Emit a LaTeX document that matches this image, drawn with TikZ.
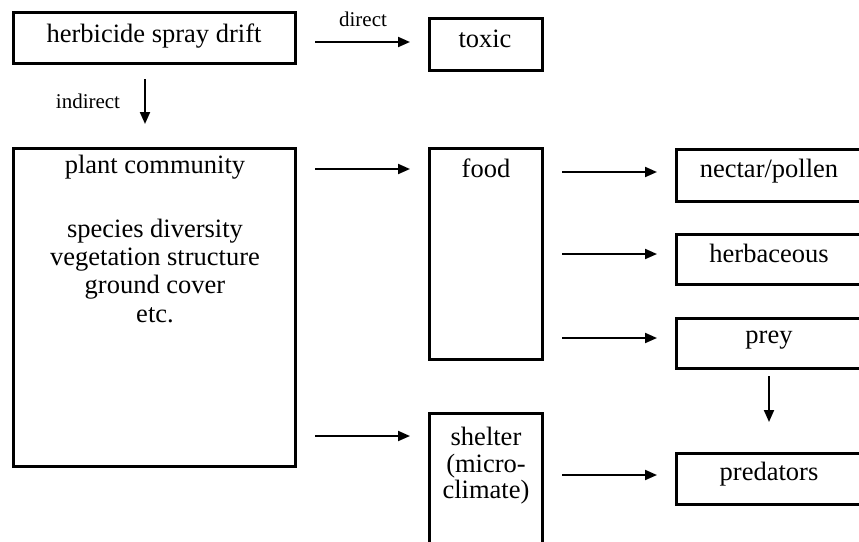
\documentclass[tikz,border=0pt]{standalone}
\usepackage{fontspec}
\setmainfont{Liberation Serif}
\usetikzlibrary{arrows.meta}
\begin{document}
\begin{tikzpicture}[x=1pt,y=-1pt,
  box/.style={draw, line width=3pt, inner sep=0pt, outer sep=0pt, anchor=north west},
  txt/.style={anchor=base, inner sep=0pt, font=\fontsize{26.5}{28.5}\selectfont},
  lbl/.style={anchor=base, inner sep=0pt, font=\fontsize{21}{24}\selectfont},
  arr/.style={line width=2pt, -{Triangle[length=12pt,width=10pt]}}]
\useasboundingbox (0,0) rectangle (859,541);
\clip (0,0) rectangle (859,541);
\fill[white] (0,0) rectangle (859,541);
% boxes
\node[box, minimum width=282pt, minimum height=51pt] (herb) at (13.5,12.5) {};
\node[box, minimum width=113pt, minimum height=52pt] (toxic) at (429.5,18.5) {};
\node[box, minimum width=282pt, minimum height=318pt] (plant) at (13.5,148.5) {};
\node[box, minimum width=113pt, minimum height=211pt] (food) at (429.5,148.5) {};
\node[box, minimum width=113pt, minimum height=150pt] (shelter) at (429.5,413.5) {};
\node[box, minimum width=188pt, minimum height=52pt] (nectar) at (676.5,149.5) {};
\node[box, minimum width=188pt, minimum height=50pt] (herbac) at (676.5,234.5) {};
\node[box, minimum width=188pt, minimum height=50pt] (prey) at (676.5,318.5) {};
\node[box, minimum width=188pt, minimum height=51pt] (pred) at (676.5,453.5) {};
% texts
\node[txt] (herbT) at (154,42) {herbicide spray drift};
\node[txt] (toxicT) at (485,47) {toxic};
\node[lbl] (directL) at (363,26) {direct};
\node[lbl] (indirectL) at (88,108) {indirect};
\node[txt] (pc1) at (155,173) {plant community};
\node[txt] (pc2) at (155,237) {species diversity};
\node[txt] (pc3) at (155,265) {vegetation structure};
\node[txt] (pc4) at (155,293) {ground cover};
\node[txt] (pc5) at (155,322) {etc.};
\node[txt] (foodT) at (486,177) {food};
\node[txt] (sh1) at (486,445) {shelter};
\node[txt] (sh2) at (486,472) {(micro-};
\node[txt] (sh3) at (486,498) {climate)};
\node[txt] (nectarT) at (769,177) {nectar/pollen};
\node[txt] (herbacT) at (769,262) {herbaceous};
\node[txt] (preyT) at (769,343) {prey};
\node[txt] (predT) at (769,480) {predators};
% arrow start points
\coordinate (d0) at ([xshift=19.5pt,yshift=-4pt]herb.east);
\coordinate (i0) at ([xshift=-9.5pt,yshift=-15.5pt]herb.south);
\coordinate (p1) at ([xshift=19.5pt,yshift=-20.5pt]plant.north east);
\coordinate (p2) at ([xshift=19.5pt,yshift=30.5pt]plant.south east);
\coordinate (f1) at ([xshift=19.5pt,yshift=-23.5pt]food.north east);
\coordinate (f2) at ([xshift=19.5pt,yshift=-105.5pt]food.north east);
\coordinate (f3) at ([xshift=19.5pt,yshift=-189.5pt]food.north east);
\coordinate (s1) at ([xshift=19.5pt,yshift=-61.5pt]shelter.north east);
\coordinate (q0) at ([xshift=-1.5pt,yshift=-7.5pt]prey.south);
% arrows
\draw[arr, shorten >=19.5pt] (d0) -- (d0 -| toxic.west);
\draw[arr, shorten >=24.5pt] (i0) -- (i0 |- plant.north);
\draw[arr, shorten >=19.5pt] (p1) -- (p1 -| food.west);
\draw[arr, shorten >=19.5pt] (p2) -- (p2 -| shelter.west);
\draw[arr, shorten >=19.5pt] (f1) -- (f1 -| nectar.west);
\draw[arr, shorten >=19.5pt] (f2) -- (f2 -| herbac.west);
\draw[arr, shorten >=19.5pt] (f3) -- (f3 -| prey.west);
\draw[arr, shorten >=19.5pt] (s1) -- (s1 -| pred.west);
\draw[arr, shorten >=31.5pt] (q0) -- (q0 |- pred.north);
\end{tikzpicture}
\end{document}
